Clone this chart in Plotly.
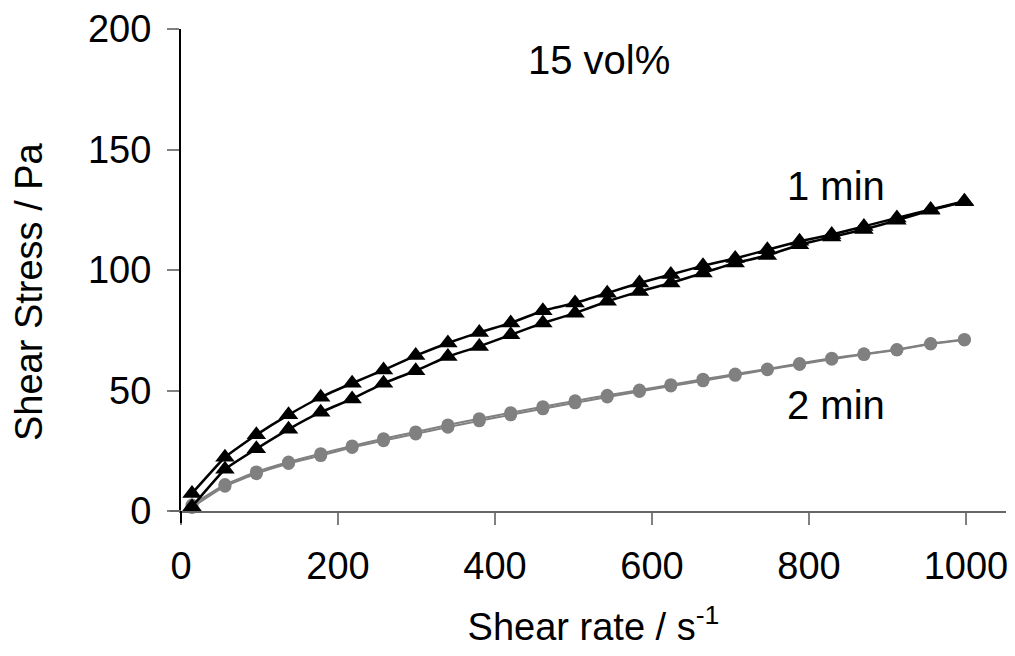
import plotly.graph_objects as go

shear_rate = [14, 56, 96, 137, 178, 218, 258, 299, 340, 380, 420, 461, 502,
              543, 584, 624, 665, 706, 747, 788, 829, 870, 912, 955, 998]

stress_1min_up = [7.3, 22.3, 31.6, 39.9, 47.2, 53.0, 58.5, 64.5, 69.7, 74.1, 78.0, 83.1, 86.3,
                  90.4, 94.6, 98.1, 101.8, 104.8, 108.4, 111.9, 114.7, 118.1, 121.6, 125.1, 128.5]
stress_1min_down = [1.8, 17.3, 25.8, 33.9, 41.0, 46.5, 53.0, 58.2, 64.1, 68.3, 73.1, 78.0, 82.1,
                    87.0, 91.1, 94.6, 98.8, 102.9, 106.0, 110.5, 113.7, 116.8, 120.6, 124.8, 128.3]
stress_2min_up = [2.5, 11.0, 16.2, 20.3, 23.8, 27.0, 30.0, 32.8, 35.7, 38.3, 40.8, 43.3, 45.7,
                  48.0, 50.2, 52.4, 54.7, 56.8, 58.9, 61.2, 63.4, 65.2, 67.0, 69.5, 71.2]
stress_2min_down = [1.5, 10.3, 15.5, 19.7, 23.0, 26.4, 29.2, 32.0, 34.8, 37.4, 39.9, 42.4, 44.9,
                    47.3, 49.6, 51.9, 54.0, 56.3, 58.6, 60.8, 63.0, 64.9, 66.8, 69.3, 71.0]

x_ticks = [0, 200, 400, 600, 800, 1000]
y_ticks = [0, 50, 100, 150, 200]

FONT = "Liberation Sans, Arial, sans-serif"
GRAY = "#808080"

fig = go.Figure()

for ys in (stress_2min_up, stress_2min_down):
    fig.add_trace(go.Scatter(
        x=shear_rate, y=ys, mode="lines+markers",
        line=dict(color=GRAY, width=2, shape="spline", smoothing=0.3),
        marker=dict(symbol="circle", size=13, color=GRAY),
        cliponaxis=False, showlegend=False))

for ys in (stress_1min_up, stress_1min_down):
    fig.add_trace(go.Scatter(
        x=shear_rate, y=ys, mode="lines+markers",
        line=dict(color="black", width=2.5, shape="spline", smoothing=0.3),
        marker=dict(symbol="triangle-up", size=17, color="black"),
        cliponaxis=False, showlegend=False))

fig.update_layout(
    width=1015, height=656,
    margin=dict(l=181, r=7, t=29, b=145),
    paper_bgcolor="white", plot_bgcolor="white",
    font=dict(family=FONT, size=38, color="black"),
    xaxis=dict(range=[0, 1051], tickvals=x_ticks, showgrid=False, zeroline=False,
               showline=True, linecolor="#666666", linewidth=2,
               ticks="outside", ticklen=12, tickwidth=2, tickcolor=GRAY,
               tickfont=dict(size=38), ticklabelstandoff=8,
               title=dict(text="Shear rate / s<sup>-1</sup>", font=dict(size=38), standoff=28)),
    yaxis=dict(range=[0, 200], tickvals=y_ticks, showgrid=False, zeroline=False,
               showline=True, linecolor="black", linewidth=2,
               ticks="outside", ticklen=12, tickwidth=2, tickcolor=GRAY,
               tickfont=dict(size=38), ticklabelstandoff=8),
    annotations=[
        dict(text="Shear Stress / Pa", xref="paper", yref="paper", x=-0.185, y=0.455,
             textangle=-90, showarrow=False, font=dict(size=38), xanchor="center", yanchor="middle"),
        dict(text="15 vol%", x=532, y=187, xref="x", yref="y", showarrow=False, font=dict(size=40)),
        dict(text="1 min", x=835, y=135, xref="x", yref="y", showarrow=False, font=dict(size=40)),
        dict(text="2 min", x=835, y=44, xref="x", yref="y", showarrow=False, font=dict(size=40)),
    ],
    shapes=[
        dict(type="line", xref="paper", yref="paper", x0=-11/827, x1=0, y0=0, y1=0,
             line=dict(color="#666666", width=2)),
        dict(type="line", xref="paper", yref="paper", x0=0, x1=0, y0=-12/482, y1=0,
             line=dict(color="black", width=2)),
    ],
)

fig.write_html("out.html")
